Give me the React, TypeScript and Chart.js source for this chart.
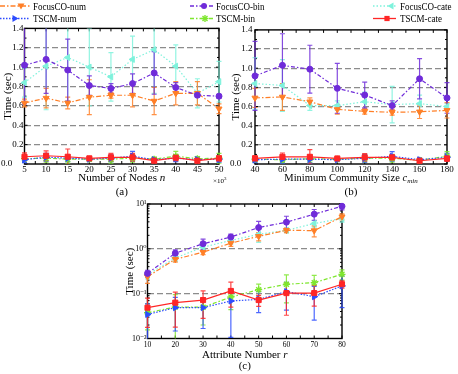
import React, { useEffect, useRef } from 'react';
import { Chart, registerables } from 'chart.js';

Chart.register(...registerables);

const FONT = "'Liberation Serif', 'DejaVu Serif', 'Times New Roman', serif";
Chart.defaults.font.family = FONT;
Chart.defaults.color = '#000';

// ---------------- data: panel (a) ----------------
const nodesN = [5, 10, 15, 20, 25, 30, 35, 40, 45, 50];
const aFocusNum = [0.63, 0.68, 0.63, 0.69, 0.71, 0.71, 0.65, 0.73, 0.73, 0.57];
const aFocusNumErr = [0.04, 0.10, 0.06, 0.18, 0.03, 0.12, 0.14, 0.12, 0.12, 0.05];
const aFocusBin = [1.02, 1.08, 0.97, 0.81, 0.78, 0.83, 0.94, 0.79, 0.71, 0.70];
const aFocusBinErr = [0.40, 0.35, 0.32, 0.10, 0.05, 0.10, 0.22, 0.05, 0.02, 0.02];
const aFocusCate = [0.84, 1.01, 1.10, 1.00, 0.90, 1.08, 1.18, 1.01, 0.73, 0.85];
const aFocusCateErr = [0.15, 0.45, 0.45, 0.40, 0.25, 0.24, 0.45, 0.22, 0.15, 0.21];
const aTscmNum = [0.045, 0.07, 0.06, 0.05, 0.06, 0.08, 0.045, 0.06, 0.045, 0.05];
const aTscmNumErr = [0.03, 0.04, 0.035, 0.02, 0.035, 0.05, 0.02, 0.035, 0.025, 0.03];
const aTscmBin = [0.055, 0.06, 0.05, 0.05, 0.05, 0.06, 0.05, 0.08, 0.055, 0.06];
const aTscmBinErr = [0.035, 0.04, 0.04, 0.02, 0.04, 0.04, 0.02, 0.05, 0.02, 0.05];
const aTscmCate = [0.075, 0.085, 0.075, 0.058, 0.069, 0.069, 0.034, 0.065, 0.034, 0.058];
const aTscmCateErr = [0.04, 0.05, 0.08, 0.02, 0.04, 0.04, 0.02, 0.03, 0.02, 0.03];

// ---------------- data: panel (b) ----------------
const commSize = [40, 60, 80, 100, 120, 140, 160, 180];
const bFocusNum = [0.69, 0.70, 0.65, 0.57, 0.55, 0.54, 0.545, 0.56];
const bFocusNumErr = [0.10, 0.14, 0.04, 0.05, 0.03, 0.03, 0.07, 0.08];
const bFocusBin = [0.92, 1.03, 0.99, 0.79, 0.72, 0.61, 0.89, 0.69];
const bFocusBinErr = [0.36, 0.33, 0.25, 0.26, 0.135, 0.05, 0.21, 0.16];
const bFocusCate = [0.84, 0.82, 0.61, 0.61, 0.65, 0.62, 0.63, 0.60];
const bFocusCateErr = [0.27, 0.27, 0.05, 0.05, 0.10, 0.19, 0.09, 0.03];
const bTscmNum = [0.045, 0.05, 0.05, 0.045, 0.06, 0.08, 0.045, 0.07];
const bTscmNumErr = [0.03, 0.04, 0.04, 0.02, 0.04, 0.05, 0.02, 0.04];
const bTscmBin = [0.05, 0.045, 0.055, 0.05, 0.06, 0.06, 0.04, 0.08];
const bTscmBinErr = [0.03, 0.03, 0.04, 0.01, 0.04, 0.04, 0.02, 0.05];
const bTscmCate = [0.058, 0.075, 0.075, 0.058, 0.069, 0.069, 0.034, 0.058];
const bTscmCateErr = [0.03, 0.04, 0.075, 0.01, 0.04, 0.03, 0.01, 0.03];

// ---------------- data: panel (c) ----------------
const attrR = [10, 20, 30, 40, 50, 60, 70, 80];
const cFocusNum = [0.24, 0.585, 0.84, 1.34, 1.90, 2.59, 2.55, 5.2];
const cFocusNumErr = [0.07, 0.08, 0.10, 0.20, 0.40, 0.30, 0.70, 0.80];
const cFocusBin = [0.283, 0.80, 1.30, 1.83, 2.98, 3.93, 5.94, 8.9];
const cFocusBinErr = [0.05, 0.15, 0.35, 0.30, 1.10, 1.40, 1.60, 1.50];
const cFocusCate = [0.264, 0.627, 1.09, 1.54, 2.10, 2.59, 3.66, 4.76];
const cFocusCateErr = [0.05, 0.10, 0.15, 0.25, 0.70, 0.30, 0.60, 0.80];
const cTscmNum = [0.0344, 0.0487, 0.0487, 0.0686, 0.0746, 0.111, 0.0857, 0.149];
const cTscmNumErr = [0.025, 0.034, 0.032, 0.058, 0.037, 0.068, 0.06, 0.10];
const cTscmBin = [0.0376, 0.0503, 0.05, 0.084, 0.123, 0.162, 0.176, 0.27];
const cTscmBinErr = [0.022, 0.045, 0.03, 0.04, 0.04, 0.10, 0.08, 0.07];
const cTscmCate = [0.0487, 0.063, 0.072, 0.115, 0.072, 0.103, 0.103, 0.162];
const cTscmCateErr = [0.031, 0.045, 0.044, 0.065, 0.02, 0.07, 0.05, 0.03];

const yLinTickLabels = ['0.0', '0.2', '0.4', '0.6', '0.8', '1.0', '1.2', '1.4'];
const yLogTickLabels = ['10\u207B\u00B2', '10\u207B\u00B9', '10\u2070', '10\u00B9'];

// ---------------- styles ----------------
const STYLE: any = {
  focusNum: { label: 'FocusCO-num', color: '#ff7f27', dash: [5, 2, 1.5, 2], ps: 'triangle', rot: 180, r: 3.5 },
  focusBin: { label: 'FocusCO-bin', color: '#6f2bd9', dash: [4, 2, 1.5, 2], ps: 'circle', rot: 0, r: 3 },
  focusCate: { label: 'FocusCO-cate', color: '#7ef2dc', dash: [1.5, 2], ps: 'triangle', rot: -90, r: 3.5 },
  tscmNum: { label: 'TSCM-num', color: '#2d4cff', dash: [1.5, 1.5], ps: 'triangle', rot: 90, r: 3.5 },
  tscmBin: { label: 'TSCM-bin', color: '#7ee62e', dash: [4, 2, 1.5, 2], ps: 'star', rot: 0, r: 3.5 },
  tscmCate: { label: 'TSCM-cate', color: '#ff2626', dash: [], ps: 'rect', rot: 0, r: 3.6 },
};
const GRID = '#8c8c8c';

function ds(key: string, xs: number[], ys: number[], errs: number[]) {
  const s = STYLE[key];
  return {
    label: s.label,
    data: xs.map((x, i) => ({ x, y: ys[i] })),
    errors: errs,
    borderColor: s.color,
    backgroundColor: s.color,
    pointBackgroundColor: s.color,
    pointBorderColor: s.color,
    borderWidth: 1.2,
    borderDash: s.dash,
    pointStyle: s.ps,
    pointRotation: s.rot,
    pointRadius: s.r,
    pointBorderWidth: s.ps === 'star' ? 1.4 : 1,
    tension: 0,
    fill: false,
    clip: false,
  };
}

function steps(min: number, max: number, step: number) {
  const out: number[] = [];
  for (let i = 0; min + i * step <= max + 1e-9; i++) out.push(min + i * step);
  return out;
}

function logMinor(minExp: number, maxExp: number) {
  const out: { v: number; major: boolean }[] = [];
  for (let e = minExp; e < maxExp; e++) {
    for (let k = 1; k <= 9; k++) out.push({ v: k * Math.pow(10, e), major: k === 1 });
  }
  out.push({ v: Math.pow(10, maxExp), major: true });
  return out;
}

function drawRich(ctx: any, parts: any[], cx: number, cy: number, size: number, align = 'center') {
  const fontOf = (p: any) =>
    `${p.italic ? 'italic ' : ''}${p.sub || p.sup ? Math.round(size * 0.7) : size}px ${FONT}`;
  let total = 0;
  for (const p of parts) {
    ctx.font = fontOf(p);
    total += ctx.measureText(p.t).width;
  }
  let x = align === 'center' ? cx - total / 2 : cx;
  ctx.textBaseline = 'middle';
  ctx.textAlign = 'left';
  ctx.fillStyle = '#000';
  for (const p of parts) {
    ctx.font = fontOf(p);
    const dy = p.sub ? size * 0.3 : p.sup ? -size * 0.35 : 0;
    ctx.fillText(p.t, x, cy + dy);
    x += ctx.measureText(p.t).width;
  }
}

function decorPlugin(cfg: any) {
  return {
    id: 'decor',
    beforeDatasetsDraw(chart: any) {
      const { ctx, chartArea: a } = chart;
      const xs = chart.scales.x;
      const ys = chart.scales.y;
      ctx.save();
      ctx.setLineDash([]);
      ctx.strokeStyle = '#000';
      ctx.lineWidth = 1.4;
      ctx.strokeRect(a.left, a.top, a.right - a.left, a.bottom - a.top);
      ctx.lineWidth = 1;
      ctx.beginPath();
      for (const v of cfg.xTicks) {
        const px = xs.getPixelForValue(v);
        ctx.moveTo(px, a.bottom);
        ctx.lineTo(px, a.bottom - 3);
        ctx.moveTo(px, a.top);
        ctx.lineTo(px, a.top + 3);
      }
      for (const t of cfg.yTicks) {
        const py = ys.getPixelForValue(t.v);
        const l = t.major ? 3 : 2;
        ctx.moveTo(a.left, py);
        ctx.lineTo(a.left + l, py);
        ctx.moveTo(a.right, py);
        ctx.lineTo(a.right - l, py);
      }
      ctx.stroke();

      // error bars
      ctx.beginPath();
      ctx.rect(a.left - 4, a.top, a.right - a.left + 8, a.bottom - a.top);
      ctx.clip();
      const n = chart.data.datasets.length;
      for (let d = n - 1; d >= 0; d--) {
        const set = chart.data.datasets[d];
        const meta = chart.getDatasetMeta(d);
        ctx.strokeStyle = set.borderColor;
        ctx.globalAlpha = 0.85;
        ctx.lineWidth = 1.2;
        ctx.beginPath();
        set.data.forEach((p: any, i: number) => {
          const e = set.errors[i];
          const x = meta.data[i].x;
          const hi = ys.getPixelForValue(p.y + e);
          const lo = p.y - e > 0 || !cfg.log ? ys.getPixelForValue(p.y - e) : a.bottom + 6;
          ctx.moveTo(x, hi);
          ctx.lineTo(x, lo);
          ctx.moveTo(x - 2.5, hi);
          ctx.lineTo(x + 2.5, hi);
          ctx.moveTo(x - 2.5, lo);
          ctx.lineTo(x + 2.5, lo);
        });
        ctx.stroke();
      }
      ctx.restore();
    },
    afterDraw(chart: any) {
      const { ctx, chartArea: a } = chart;
      ctx.save();
      const cx = (a.left + a.right) / 2;
      drawRich(ctx, cfg.xTitle, cx, a.bottom + cfg.titleDy, cfg.titleSize);
      drawRich(ctx, [{ t: cfg.label }], cx, a.bottom + cfg.labelDy, 11);
      if (cfg.exp) drawRich(ctx, cfg.exp, a.right - 6, a.bottom + 17, 7, 'left');
      ctx.restore();
    },
  };
}

function linearConfig(xs: number[], sets: any[], xMin: number, xMax: number, xStep: number, yW: number, yTitlePad: number, yLabelPad: number, decor: any) {
  return {
    type: 'line',
    data: { datasets: sets },
    plugins: [decorPlugin(decor)],
    options: {
      animation: false,
      responsive: false,
      maintainAspectRatio: false,
      events: [],
      layout: { padding: { left: 0, top: 6, right: decor.padRight, bottom: 0 } },
      plugins: { legend: { display: false }, tooltip: { enabled: false } },
      scales: {
        x: {
          type: 'linear',
          min: xMin,
          max: xMax,
          afterFit: (s: any) => { s.height = 38; },
          grid: { display: false, drawTicks: false },
          border: { display: false },
          ticks: { stepSize: xStep, autoSkip: false, maxRotation: 0, padding: 0, font: { size: 9 }, color: '#000' },
        },
        y: {
          type: 'linear',
          min: 0,
          max: 1.4,
          afterFit: (s: any) => { s.width = yW; },
          grid: {
            drawTicks: false,
            lineWidth: 1.2,
            color: (c: any) => (c.tick && c.tick.value > 0.01 && c.tick.value < 1.39 ? GRID : 'rgba(0,0,0,0)'),
          },
          border: { display: false, dash: [6, 3] },
          ticks: {
            stepSize: 0.2,
            padding: yLabelPad,
            font: { size: 9 },
            color: '#000',
            callback: (v: number, i: number) => (i === 0 ? yLinTickLabels[0] + '     ' : yLinTickLabels[i]),
          },
          title: { display: true, text: 'Time (sec)', font: { size: 11 }, color: '#000', padding: { top: yTitlePad, bottom: 0 } },
        },
      },
    },
  };
}

function logConfig(sets: any[], decor: any) {
  return {
    type: 'line',
    data: { datasets: sets },
    plugins: [decorPlugin(decor)],
    options: {
      animation: false,
      responsive: false,
      maintainAspectRatio: false,
      events: [],
      layout: { padding: { left: 0, top: 8, right: 12, bottom: 0 } },
      plugins: { legend: { display: false }, tooltip: { enabled: false } },
      scales: {
        x: {
          type: 'linear',
          min: 10,
          max: 80,
          afterFit: (s: any) => { s.height = 35.5; },
          grid: { display: false, drawTicks: false },
          border: { display: false },
          ticks: { stepSize: 10, autoSkip: false, maxRotation: 0, padding: 2, font: { size: 7.5 }, color: '#000' },
        },
        y: {
          type: 'logarithmic',
          min: 0.01,
          max: 10,
          afterFit: (s: any) => { s.width = 29.5; },
          afterBuildTicks: (s: any) => {
            s.ticks = [0.01, 0.1, 1, 10].map((v) => ({ value: v }));
          },
          grid: {
            drawTicks: false,
            lineWidth: 1.2,
            color: (c: any) => (c.tick && (c.tick.value === 0.1 || c.tick.value === 1) ? GRID : 'rgba(0,0,0,0)'),
          },
          border: { display: false, dash: [6, 3] },
          ticks: {
            padding: 1,
            font: { size: 8 },
            color: '#000',
            callback: (v: number, i: number) => yLogTickLabels[i],
          },
          title: { display: true, text: 'Time (sec)', font: { size: 11 }, color: '#000', padding: { top: 6, bottom: 0 } },
        },
      },
    },
  };
}

const legendRows = [
  [
    { key: 'focusNum', x0: 0, x1: 30, mx: 21, tx: 33 },
    { key: 'focusBin', x0: 190, x1: 213, mx: 204, tx: 216 },
    { key: 'focusCate', x0: 373, x1: 396, mx: 391, tx: 400 },
  ],
  [
    { key: 'tscmNum', x0: 0, x1: 30, mx: 15, tx: 33 },
    { key: 'tscmBin', x0: 190, x1: 213, mx: 205, tx: 216 },
    { key: 'tscmCate', x0: 373, x1: 396, mx: 387, tx: 400 },
  ],
];

function LegendMarker({ kind, x, y, color }: any) {
  if (kind === 'focusNum') return <polygon points={`${x - 3.5},${y - 2.5} ${x + 3.5},${y - 2.5} ${x},${y + 3.5}`} fill={color} />;
  if (kind === 'focusBin') return <circle cx={x} cy={y} r={3} fill={color} />;
  if (kind === 'focusCate') return <polygon points={`${x - 3.5},${y} ${x + 2.5},${y - 3.5} ${x + 2.5},${y + 3.5}`} fill={color} />;
  if (kind === 'tscmNum') return <polygon points={`${x + 3.5},${y} ${x - 2.5},${y - 3.5} ${x - 2.5},${y + 3.5}`} fill={color} />;
  if (kind === 'tscmBin')
    return (
      <g stroke={color} strokeWidth={1.4}>
        <line x1={x - 3.5} y1={y} x2={x + 3.5} y2={y} />
        <line x1={x} y1={y - 3.5} x2={x} y2={y + 3.5} />
        <line x1={x - 2.5} y1={y - 2.5} x2={x + 2.5} y2={y + 2.5} />
        <line x1={x - 2.5} y1={y + 2.5} x2={x + 2.5} y2={y - 2.5} />
      </g>
    );
  return <rect x={x - 2.6} y={y - 2.6} width={5.2} height={5.2} fill={color} />;
}

function Legend() {
  const rowY = [6, 18.5];
  return (
    <>
      <svg width={458} height={26} style={{ position: 'absolute', left: 0, top: 0 }}>
        {legendRows.map((row, r) =>
          row.map((it) => {
            const s = STYLE[it.key];
            return (
              <g key={it.key}>
                <line x1={it.x0} y1={rowY[r]} x2={it.x1} y2={rowY[r]} stroke={s.color} strokeWidth={1.3} strokeDasharray={s.dash.length ? s.dash.join(' ') : undefined} />
                <LegendMarker kind={it.key} x={it.mx} y={rowY[r]} color={s.color} />
              </g>
            );
          })
        )}
      </svg>
      {legendRows.map((row, r) =>
        row.map((it) => (
          <span
            key={'t' + it.key}
            style={{
              position: 'absolute',
              left: it.tx,
              top: rowY[r] - 6.5,
              fontFamily: FONT,
              fontSize: 11,
              lineHeight: '13px',
              whiteSpace: 'nowrap',
              color: '#000',
              transform: 'scaleX(0.82)',
              transformOrigin: 'left center',
            }}
          >
            {STYLE[it.key].label}
          </span>
        ))
      )}
    </>
  );
}

export default function App() {
  const refA = useRef<HTMLCanvasElement>(null);
  const refB = useRef<HTMLCanvasElement>(null);
  const refC = useRef<HTMLCanvasElement>(null);

  useEffect(() => {
    const setsA = [
      ds('tscmCate', nodesN, aTscmCate, aTscmCateErr),
      ds('focusBin', nodesN, aFocusBin, aFocusBinErr),
      ds('focusNum', nodesN, aFocusNum, aFocusNumErr),
      ds('tscmNum', nodesN, aTscmNum, aTscmNumErr),
      ds('tscmBin', nodesN, aTscmBin, aTscmBinErr),
      ds('focusCate', nodesN, aFocusCate, aFocusCateErr),
    ];
    const setsB = [
      ds('tscmCate', commSize, bTscmCate, bTscmCateErr),
      ds('focusBin', commSize, bFocusBin, bFocusBinErr),
      ds('focusNum', commSize, bFocusNum, bFocusNumErr),
      ds('tscmNum', commSize, bTscmNum, bTscmNumErr),
      ds('tscmBin', commSize, bTscmBin, bTscmBinErr),
      ds('focusCate', commSize, bFocusCate, bFocusCateErr),
    ];
    const setsC = [
      ds('tscmCate', attrR, cTscmCate, cTscmCateErr),
      ds('focusBin', attrR, cFocusBin, cFocusBinErr),
      ds('focusNum', attrR, cFocusNum, cFocusNumErr),
      ds('tscmNum', attrR, cTscmNum, cTscmNumErr),
      ds('tscmBin', attrR, cTscmBin, cTscmBinErr),
      ds('focusCate', attrR, cFocusCate, cFocusCateErr),
    ];
    const yLinMinor = steps(0, 1.4, 0.1).map((v, i) => ({ v, major: i % 2 === 0 }));
    const cfgA: any = linearConfig(nodesN, setsA, 5, 50, 5, 24.5, 1.7, 1, {
      xTicks: steps(5, 50, 2.5),
      yTicks: yLinMinor,
      xTitle: [{ t: 'Number of Nodes ' }, { t: 'n', italic: true }],
      titleDy: 14.5,
      titleSize: 11,
      labelDy: 28,
      label: '(a)',
      padRight: 10,
      exp: [{ t: '\u00D710' }, { t: '3', sup: true }],
    });
    const cfgB: any = linearConfig(commSize, setsB, 40, 180, 20, 26, 0.9, 2.5, {
      xTicks: steps(40, 180, 10),
      yTicks: yLinMinor,
      xTitle: [{ t: 'Minimum Community Size ' }, { t: 'c', italic: true }, { t: 'min', italic: true, sub: true }],
      titleDy: 14.5,
      titleSize: 10.5,
      labelDy: 28,
      label: '(b)',
      padRight: 11,
    });
    const cfgC: any = logConfig(setsC, {
      xTicks: steps(10, 80, 5),
      yTicks: logMinor(-2, 1),
      xTitle: [{ t: 'Attribute Number ' }, { t: 'r', italic: true }],
      titleDy: 16.5,
      titleSize: 11,
      labelDy: 28,
      label: '(c)',
      log: true,
    });
    const charts = [
      new Chart(refA.current as any, cfgA),
      new Chart(refB.current as any, cfgB),
      new Chart(refC.current as any, cfgC),
    ];
    return () => charts.forEach((c) => c.destroy());
  }, []);

  return (
    <div style={{ position: 'fixed', left: 0, top: 0, width: 458, height: 374, background: '#fff', overflow: 'hidden' }}>
      <canvas ref={refA} width={229} height={180} style={{ position: 'absolute', left: 0, top: 22, width: 229, height: 180 }} />
      <canvas ref={refB} width={229} height={180} style={{ position: 'absolute', left: 229, top: 22, width: 229, height: 180 }} />
      <canvas ref={refC} width={236} height={178} style={{ position: 'absolute', left: 118, top: 196, width: 236, height: 178 }} />
      <Legend />
    </div>
  );
}
